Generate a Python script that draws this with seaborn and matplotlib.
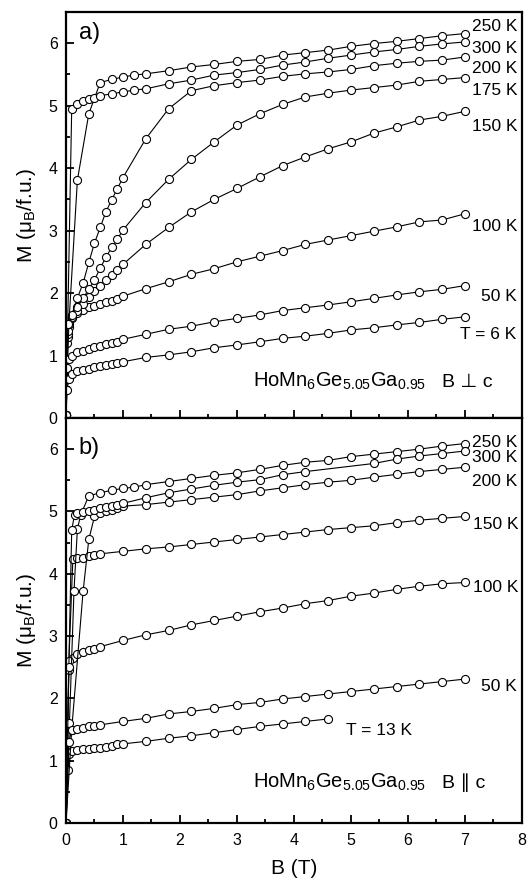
import numpy as np
import pandas as pd
import matplotlib
matplotlib.use("Agg")
import matplotlib.pyplot as plt
import seaborn as sns
from matplotlib.ticker import MultipleLocator

# ---------------- panel a) : B perpendicular to c ----------------
a_B_6 = [0, 0.02, 0.05, 0.1, 0.2, 0.3, 0.4, 0.5, 0.6, 0.7, 0.8, 0.9, 1.0, 1.4, 1.8,
         2.2, 2.6, 3.0, 3.4, 3.8, 4.2, 4.6, 5.0, 5.4, 5.8, 6.2, 6.6, 7.0]
a_M_6 = [0.05, 0.45, 0.62, 0.70, 0.75, 0.77, 0.79, 0.81, 0.83, 0.85, 0.86, 0.88, 0.90, 0.97, 1.01,
         1.06, 1.125, 1.17, 1.22, 1.275, 1.31, 1.355, 1.41, 1.445, 1.49, 1.53, 1.58, 1.62]

a_B_50 = a_B_6
a_M_50 = [0.05, 0.80, 0.95, 1.00, 1.05, 1.08, 1.11, 1.14, 1.16, 1.18, 1.20, 1.22, 1.26, 1.34, 1.42,
          1.47, 1.54, 1.595, 1.65, 1.72, 1.765, 1.81, 1.86, 1.915, 1.97, 2.02, 2.06, 2.12]

a_B_100 = a_B_6
a_M_100 = [0.05, 1.20, 1.45, 1.62, 1.68, 1.73, 1.77, 1.80, 1.83, 1.86, 1.88, 1.91, 1.95, 2.07, 2.18,
           2.30, 2.39, 2.50, 2.59, 2.68, 2.78, 2.85, 2.92, 2.99, 3.06, 3.14, 3.17, 3.27]

a_B_hi = [0, 0.03, 0.1, 0.2, 0.3, 0.4, 0.5, 0.6, 0.7, 0.8, 0.9, 1.0, 1.4, 1.8, 2.2, 2.6,
          3.0, 3.4, 3.8, 4.2, 4.6, 5.0, 5.4, 5.8, 6.2, 6.6, 7.0]
a_M_150 = [0.05, 1.30, 1.60, 1.72, 1.83, 1.93, 2.03, 2.12, 2.21, 2.29, 2.37, 2.46, 2.78, 3.05, 3.30, 3.50,
           3.675, 3.86, 4.04, 4.18, 4.31, 4.42, 4.56, 4.66, 4.77, 4.83, 4.91]
a_M_175 = [0.05, 1.35, 1.62, 1.78, 1.92, 2.06, 2.21, 2.40, 2.57, 2.73, 2.86, 3.01, 3.45, 3.82, 4.14, 4.42,
           4.69, 4.87, 5.02, 5.14, 5.20, 5.25, 5.29, 5.33, 5.39, 5.42, 5.45]
a_M_200 = [0.05, 1.40, 1.65, 1.92, 2.16, 2.49, 2.80, 3.05, 3.30, 3.49, 3.67, 3.85, 4.47, 4.95, 5.24, 5.32,
           5.37, 5.41, 5.47, 5.51, 5.54, 5.58, 5.64, 5.68, 5.71, 5.73, 5.78]

a_B_250 = [0, 0.05, 0.2, 0.4, 0.6, 0.8, 1.0, 1.2, 1.4, 1.8, 2.2, 2.6, 3.0, 3.4, 3.8, 4.2,
           4.6, 5.0, 5.4, 5.8, 6.2, 6.6, 7.0]
a_M_250 = [0.05, 1.50, 3.81, 4.87, 5.37, 5.42, 5.46, 5.49, 5.51, 5.56, 5.62, 5.66, 5.71, 5.74, 5.81, 5.85,
           5.89, 5.95, 5.995, 6.03, 6.075, 6.12, 6.155]

a_B_300 = [0, 0.03, 0.1, 0.2, 0.3, 0.4, 0.5, 0.6, 0.8, 1.0, 1.2, 1.4, 1.8, 2.2, 2.6, 3.0,
           3.4, 3.8, 4.2, 4.6, 5.0, 5.4, 5.8, 6.2, 6.6, 7.0]
a_M_300 = [0.05, 1.50, 4.95, 5.03, 5.08, 5.10, 5.13, 5.16, 5.19, 5.22, 5.25, 5.27, 5.35, 5.41, 5.49, 5.53,
           5.58, 5.65, 5.70, 5.76, 5.81, 5.86, 5.90, 5.95, 5.99, 6.02]

a_labels = ["250 K", "300 K", "200 K", "175 K", "150 K", "100 K", "50 K", "T = 6 K"]
a_label_x = [7.12, 7.12, 7.12, 7.12, 7.12, 7.12, 7.28, 6.91]
a_label_y = [6.26, 5.92, 5.60, 5.25, 4.66, 3.06, 1.94, 1.33]

# ---------------- panel b) : B parallel to c ----------------
b_B_13 = [0, 0.04, 0.06, 0.1, 0.2, 0.3, 0.4, 0.5, 0.6, 0.7, 0.8, 0.9, 1.0, 1.4, 1.8,
          2.2, 2.6, 3.0, 3.4, 3.8, 4.2, 4.6]
b_M_13 = [0.0, 0.85, 1.10, 1.15, 1.17, 1.18, 1.19, 1.20, 1.21, 1.22, 1.24, 1.26, 1.27, 1.31, 1.36,
          1.40, 1.45, 1.50, 1.55, 1.59, 1.63, 1.67]

b_B_50 = [0, 0.05, 0.1, 0.2, 0.3, 0.4, 0.5, 0.6, 1.0, 1.4, 1.8, 2.2, 2.6, 3.0, 3.4, 3.8,
          4.2, 4.6, 5.0, 5.4, 5.8, 6.2, 6.6, 7.0]
b_M_50 = [0.0, 1.30, 1.49, 1.51, 1.52, 1.55, 1.56, 1.575, 1.63, 1.68, 1.75, 1.79, 1.84, 1.90, 1.935, 1.99,
          2.03, 2.07, 2.11, 2.15, 2.19, 2.23, 2.27, 2.31]

b_B_100 = [0, 0.05, 0.12, 0.2, 0.3, 0.4, 0.5, 0.6, 1.0, 1.4, 1.8, 2.2, 2.6, 3.0, 3.4, 3.8,
           4.2, 4.6, 5.0, 5.4, 5.8, 6.2, 6.6, 7.0]
b_M_100 = [0.0, 2.45, 2.65, 2.72, 2.75, 2.78, 2.80, 2.83, 2.93, 3.02, 3.09, 3.18, 3.25, 3.32, 3.39, 3.45,
           3.52, 3.57, 3.64, 3.69, 3.75, 3.80, 3.84, 3.86]

b_B_150 = [0, 0.05, 0.12, 0.2, 0.3, 0.4, 0.5, 0.6, 1.0, 1.4, 1.8, 2.2, 2.6, 3.0, 3.4, 3.8,
           4.2, 4.6, 5.0, 5.4, 5.8, 6.2, 6.6, 7.0]
b_M_150 = [0.0, 2.60, 4.23, 4.25, 4.26, 4.28, 4.30, 4.32, 4.36, 4.40, 4.43, 4.47, 4.51, 4.55, 4.59, 4.63,
           4.67, 4.71, 4.74, 4.77, 4.82, 4.86, 4.89, 4.92]

b_B_200 = [0, 0.1, 0.3, 0.4, 0.5, 0.6, 0.7, 0.8, 0.9, 1.0, 1.4, 1.8, 2.2, 2.6, 3.0, 3.4,
           3.8, 4.2, 4.6, 5.0, 5.4, 5.8, 6.2, 6.6, 7.0]
b_M_200 = [0.0, 1.50, 3.72, 4.55, 4.92, 4.98, 5.01, 5.03, 5.05, 5.085, 5.11, 5.15, 5.19, 5.23, 5.27, 5.33,
           5.38, 5.43, 5.47, 5.50, 5.55, 5.595, 5.64, 5.675, 5.71]

b_B_250 = [0, 0.06, 0.14, 0.2, 0.26, 0.4, 0.6, 0.8, 1.0, 1.2, 1.4, 1.8, 2.2, 2.6, 3.0, 3.4,
           3.8, 4.2, 4.6, 5.0, 5.4, 5.8, 6.2, 6.6, 7.0]
b_M_250 = [0.0, 1.60, 3.72, 4.72, 4.95, 5.25, 5.30, 5.34, 5.37, 5.39, 5.43, 5.48, 5.53, 5.58, 5.62, 5.675,
           5.74, 5.79, 5.82, 5.88, 5.92, 5.96, 6.00, 6.05, 6.09]

b_B_300 = [0, 0.05, 0.1, 0.15, 0.2, 0.3, 0.4, 0.5, 0.6, 0.7, 0.8, 0.9, 1.0, 1.4, 1.8, 2.2,
           2.6, 3.0, 3.4, 3.8, 4.2, 5.4, 5.8, 6.2, 6.6, 7.0]
b_M_300 = [0.0, 2.50, 4.70, 4.95, 4.97, 4.99, 5.01, 5.03, 5.05, 5.07, 5.09, 5.11, 5.13, 5.22, 5.30, 5.36,
           5.42, 5.47, 5.51, 5.59, 5.64, 5.77, 5.84, 5.89, 5.93, 5.97]

b_labels = ["250 K", "300 K", "200 K", "150 K", "100 K", "50 K", "T = 13 K"]
b_label_x = [7.12, 7.12, 7.12, 7.14, 7.14, 7.28, 4.91]
b_label_y = [6.11, 5.87, 5.48, 4.79, 3.78, 2.19, 1.48]

FONT = ["Liberation Sans", "DejaVu Sans"]


def long_table(curves):
    rows = []
    for name, bs, ms in curves:
        rows.append(pd.DataFrame({"B": bs, "M": ms, "T": name}))
    return pd.concat(rows, ignore_index=True)


df_a = long_table([
    ("6 K", a_B_6, a_M_6), ("50 K", a_B_50, a_M_50), ("100 K", a_B_100, a_M_100),
    ("150 K", a_B_hi, a_M_150), ("175 K", a_B_hi, a_M_175), ("200 K", a_B_hi, a_M_200),
    ("250 K", a_B_250, a_M_250), ("300 K", a_B_300, a_M_300),
])
df_b = long_table([
    ("13 K", b_B_13, b_M_13), ("50 K", b_B_50, b_M_50), ("100 K", b_B_100, b_M_100),
    ("150 K", b_B_150, b_M_150), ("200 K", b_B_200, b_M_200),
    ("250 K", b_B_250, b_M_250), ("300 K", b_B_300, b_M_300),
])

sns.set_theme(style="ticks")
plt.rcParams["font.family"] = FONT
plt.rcParams["mathtext.fontset"] = "custom"
plt.rcParams["mathtext.rm"] = "Liberation Sans"
plt.rcParams["mathtext.default"] = "regular"
plt.rcParams["text.color"] = "black"
plt.rcParams["axes.labelcolor"] = "black"

fig = plt.figure(figsize=(5.28, 8.88), dpi=100)
ax_a = fig.add_axes([0.125, 0.52928, 0.8636, 0.45721])
ax_b = fig.add_axes([0.125, 0.07320, 0.8636, 0.45608])


def draw_panel(ax, df):
    sns.lineplot(data=df, x="B", y="M", units="T", estimator=None, sort=False,
                 color="black", linewidth=0.8, marker="o", markersize=5.8,
                 markerfacecolor="white", markeredgecolor="black", markeredgewidth=0.8,
                 legend=False, ax=ax)
    ax.set_xlim(0, 8)
    ax.set_ylim(0, 6.5)
    ax.xaxis.set_major_locator(MultipleLocator(1))
    ax.xaxis.set_minor_locator(MultipleLocator(0.5))
    ax.yaxis.set_major_locator(MultipleLocator(1))
    ax.yaxis.set_minor_locator(MultipleLocator(0.5))
    ax.tick_params(which="both", direction="in", top=False, right=False,
                   width=1.3, labelsize=11.5, colors="black")
    ax.tick_params(axis="y", which="major", length=5.5, pad=6)
    ax.tick_params(axis="x", which="major", length=5.5, pad=7)
    ax.tick_params(which="minor", length=3)
    for sp in ax.spines.values():
        sp.set_linewidth(1.6)
        sp.set_color("black")
        sp.set_visible(True)
    ax.set_ylabel("M (μ$_{B}$/f.u.)", fontsize=15, labelpad=8)
    ax.set_xlabel("")
    ax.set_facecolor("white")


draw_panel(ax_a, df_a)
draw_panel(ax_b, df_b)
ax_a.tick_params(axis="x", labelbottom=False)
ax_b.set_xlabel("B (T)", fontsize=15, labelpad=8)

for txt, x, y in zip(a_labels, a_label_x, a_label_y):
    ax_a.text(x, y, txt, fontsize=12.5, ha="left", va="center")
for txt, x, y in zip(b_labels, b_label_x, b_label_y):
    ax_b.text(x, y, txt, fontsize=12.5, ha="left", va="center")

formula = "HoMn$_{6}$Ge$_{5.05}$Ga$_{0.95}$"
ax_a.text(3.28, 0.50, formula, fontsize=14.5, ha="left", va="baseline")
ax_a.text(6.60, 0.50, "B ⊥ c", fontsize=14, ha="left", va="baseline")
ax_b.text(3.28, 0.56, formula, fontsize=14.5, ha="left", va="baseline")
ax_b.text(6.60, 0.56, "B ∥ c", fontsize=14, ha="left", va="baseline")

ax_a.text(0.028, 0.948, "a)", transform=ax_a.transAxes, fontsize=17, ha="left", va="center")
ax_b.text(0.028, 0.925, "b)", transform=ax_b.transAxes, fontsize=17, ha="left", va="center")

fig.savefig("out.png", dpi=100, facecolor="white")
